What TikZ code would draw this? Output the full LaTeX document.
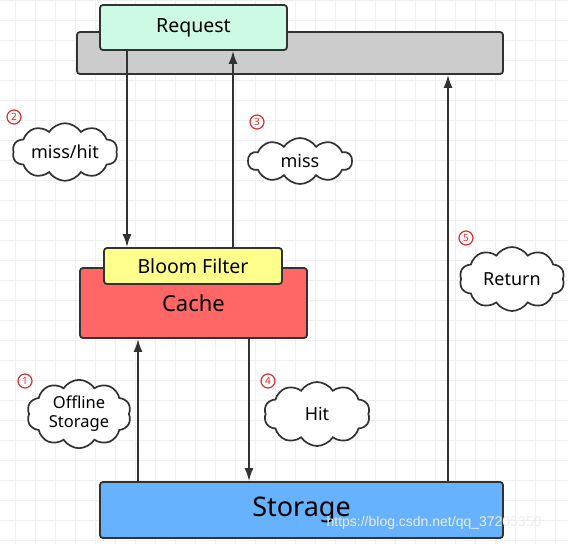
\documentclass[tikz,border=0pt]{standalone}
\usepackage{fontspec}
\setmainfont{Noto Sans}
\newfontfamily\wmfont{Liberation Sans}
\usepackage{tikz}
\definecolor{reqgreen}{RGB}{204,250,228}
\definecolor{bargray}{RGB}{204,204,204}
\definecolor{bloomyellow}{RGB}{255,255,140}
\definecolor{cachered}{RGB}{255,102,102}
\definecolor{storeblue}{RGB}{102,178,255}
\definecolor{linegray}{RGB}{50,50,50}
\definecolor{numred}{RGB}{225,45,45}
\usetikzlibrary{arrows.meta, shapes.symbols}

\begin{document}
\begin{tikzpicture}[x=1pt, y=-1pt,
    box/.style={draw=linegray, line width=1.8pt, rounded corners=3pt, inner sep=0pt},
    wolke/.style={cloud, draw=linegray, line width=1.7pt, fill=white, cloud puffs=10, cloud puff arc=115, aspect=2.2, inner sep=0pt, align=center, font=\fontsize{18}{21}\selectfont},
    nummer/.style={circle, draw=numred, text=numred, line width=1.2pt, inner sep=0pt, minimum size=14pt, font=\fontsize{10}{10}\selectfont\bfseries},
    >={Latex[length=13pt,width=9pt]},
    pfeil/.style={->, draw=linegray, line width=1.8pt},
    font=\fontsize{19.5}{22}\selectfont]
  \useasboundingbox (0,0) rectangle (568,544);
  %Hintergrundraster
  \foreach \gx in {15,35,...,555} \draw[gray!12, line width=0.6pt] (\gx,0) -- (\gx,544);
  \foreach \gy in {0,20,...,540} \draw[gray!12, line width=0.6pt] (0,\gy) -- (568,\gy);
  % Kaesten
  \node[box, fill=bargray, minimum width=426pt, minimum height=42pt] (bar) at (290,53) {};
  \node[box, fill=reqgreen, minimum width=187pt, minimum height=45pt] (req) at (193.5,27.5) {Request};
  \node[box, fill=cachered, minimum width=227pt, minimum height=70pt, font=\fontsize{22}{24}\selectfont] (cache) at (193.5,303) {Cache};
  \node[box, fill=bloomyellow, minimum width=178pt, minimum height=36pt] (bloom) at (193,266) {Bloom Filter};
  \node[box, fill=storeblue, minimum width=403pt, minimum height=56pt, font=\fontsize{27}{29}\selectfont] (store) at (301.5,510) {Storage};
  % Pfeile
  \coordinate (p1) at (127,0);
  \coordinate (p2) at (233,0);
  \coordinate (p3) at (138,0);
  \coordinate (p4) at (249,0);
  \coordinate (p5) at (448,0);
  \draw[pfeil] (req.south -| p1) -- (bloom.north -| p1);
  \draw[pfeil] (bloom.north -| p2) -- (req.south -| p2);
  \draw[pfeil] (store.north -| p3) -- (cache.south -| p3);
  \draw[pfeil] (cache.south -| p4) -- (store.north -| p4);
  \draw[pfeil] (store.north -| p5) -- (bar.south -| p5);
  % Wolken
  \node[wolke, minimum width=105pt, minimum height=44pt] (w2) at (65,152) {miss/hit};
  \node[wolke, minimum width=104pt, minimum height=46pt] (w3) at (300,161) {miss};
  \node[wolke, minimum width=105pt, minimum height=64pt] (w5) at (512,279) {Return};
  \node[wolke, minimum width=104pt, minimum height=66pt, aspect=1.5, font=\fontsize{16.5}{19}\selectfont] (w1) at (79,414) {Offline\\Storage};
  \node[wolke, minimum width=106pt, minimum height=64pt] (w4) at (317,414) {Hit};
  % Nummern
  \node[nummer] (n2) at (14,117) {2};
  \node[nummer] (n3) at (257,122) {3};
  \node[nummer] (n5) at (466,238) {5};
  \node[nummer] (n1) at (25,381) {1};
  \node[nummer] (n4) at (268,381) {4};
  %Wasserzeichen
  \node[text=white!85!gray, font=\wmfont\fontsize{14}{16}\selectfont] (wm) at (434,523) {https://blog.csdn.net/qq\_37205350};
\end{tikzpicture}
\end{document}
